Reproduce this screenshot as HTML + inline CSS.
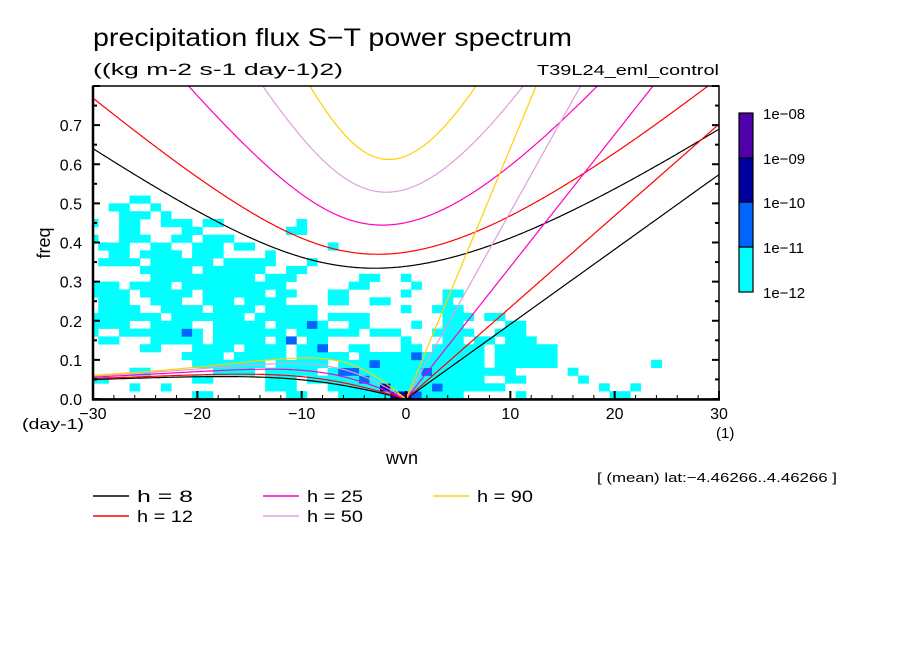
<!DOCTYPE html>
<html><head><meta charset="utf-8"><style>
body{margin:0;background:#fff;}
svg text{font-family:"Liberation Sans",sans-serif;fill:#000;}
</style></head><body>
<svg id="chart" width="904" height="654" xmlns="http://www.w3.org/2000/svg">
<rect width="904" height="654" fill="#fff"/>
<text x="93" y="46" font-size="25" textLength="479" lengthAdjust="spacingAndGlyphs">precipitation flux S−T power spectrum</text>
<text x="93" y="75" font-size="17" textLength="250" lengthAdjust="spacingAndGlyphs">((kg m-2 s-1 day-1)2)</text>
<text x="537" y="75" font-size="15" textLength="182" lengthAdjust="spacingAndGlyphs">T39L24_eml_control</text>
<defs><clipPath id="pc"><rect x="93" y="86" width="626" height="313"/></clipPath></defs>
<g id="cells" clip-path="url(#pc)"></g>
<g id="curves" clip-path="url(#pc)"></g>
<rect x="93" y="86" width="626" height="313" fill="none" stroke="#000" stroke-width="1.5"/>
<line x1="92" y1="399.5" x2="720" y2="399.5" stroke="#000" stroke-width="2.5"/>
<line x1="93" y1="86" x2="93" y2="400" stroke="#000" stroke-width="2.5"/>
<g id="ticks"></g>
<text transform="translate(50,243) rotate(-90)" font-size="18" text-anchor="middle">freq</text>
<text x="22" y="429" font-size="15" textLength="62" lengthAdjust="spacingAndGlyphs">(day-1)</text>
<text x="716" y="438" font-size="15">(1)</text>
<text x="402" y="464" font-size="18" text-anchor="middle">wvn</text>
<text x="597" y="482" font-size="13" textLength="240" lengthAdjust="spacingAndGlyphs">[ (mean) lat:−4.46266..4.46266 ]</text>
<g id="legend"></g>
<g id="cbar"></g>
</svg>
<script>
// ---- data ----
const depths = [8, 12, 25, 50, 90];
const depthColors = ["#000000", "#ff0000", "#ff00c0", "#dda0dd", "#ffd000"];
const xTicks = [-30, -20, -10, 0, 10, 20, 30];
const yTicks = [0.0, 0.1, 0.2, 0.3, 0.4, 0.5, 0.6, 0.7];
const cbarLabels = ["1e-12", "1e-11", "1e-10", "1e-09", "1e-08"];
const cbarColors = ["#00ffff", "#0064ff", "#0000a0", "#5000a8"];
const freqBin = 0.02;
// cyan (level 1) runs per frequency bin row: [kStart, kEnd]
const spectrumRuns = [
 [[-20,-19],[-11,-10],[-6,5],[11,11],[20,21]],
 [[-26,-26],[-23,-23],[-13,-11],[-7,9],[19,19],[22,22]],
 [[-30,-29],[-20,-19],[-13,-11],[-9,7],[10,11],[17,17]],
 [[-26,-25],[-18,-15],[-13,-9],[-7,10],[16,16]],
 [[-20,-14],[-12,-8],[-6,7],[9,14],[24,24]],
 [[-21,-18],[-16,-12],[-10,-6],[-4,7],[9,14]],
 [[-25,-24],[-20,-17],[-15,-12],[-10,-9],[-5,-4],[0,1],[3,7],[9,14]],
 [[-29,-28],[-24,-20],[-18,-14],[-12,-11],[-9,-8],[0,0],[4,5],[7,8],[10,12]],
 [[-30,-30],[-27,-20],[-18,-12],[-10,-5],[-3,-1],[3,6],[9,11]],
 [[-30,-27],[-24,-21],[-18,-14],[-12,-8],[-5,-4],[1,1],[4,5],[10,11]],
 [[-30,-24],[-22,-16],[-14,-9],[-7,-4],[4,6],[8,9]],
 [[-29,-26],[-23,-20],[-18,-15],[-13,-9],[0,0],[3,5]],
 [[-29,-27],[-24,-22],[-19,-17],[-15,-12],[-7,-6],[-3,-2],[4,4]],
 [[-30,-27],[-25,-21],[-19,-14],[-12,-11],[-7,-6],[0,0],[4,5]],
 [[-30,-28],[-26,-23],[-21,-17],[-16,-12],[-5,-4],[1,1]],
 [[-24,-22],[-21,-15],[-13,-11],[-4,-3],[0,0]],
 [[-25,-21],[-19,-14],[-11,-10]],
 [[-29,-26],[-24,-19],[-17,-13],[-9,-9]],
 [[-28,-27],[-25,-22],[-20,-18],[-13,-13]],
 [[-29,-27],[-24,-23],[-20,-18],[-16,-15],[-7,-7]],
 [[-30,-30],[-27,-25],[-22,-21],[-19,-17]],
 [[-27,-26],[-21,-20],[-11,-10]],
 [[-30,-30],[-27,-26],[-23,-21],[-19,-18],[-10,-10]],
 [[-27,-25],[-23,-23]],
 [[-28,-27],[-24,-24]],
 [[-26,-25]]
];
// stronger spots: wavenumber, bin index, level
const peakK = [-5,-6,-4,-2,-1,0,1,2,1,-8,-11,-21,-9,3,-3];
const peakBin = [3,3,2,1,0,0,0,3,5,6,7,8,9,1,4];
const peakLevel = [2,2,2,3,3,3,2,2,2,2,2,2,2,2,2];

// ---- axes ----
const X0=93, X1=719, Y0=399, Y1=86;
const xs = k => X0 + (k+30)/60*(X1-X0);
const ys = f => Y0 - f/0.8*(Y0-Y1);
const NS="http://www.w3.org/2000/svg";
function mk(tag, attrs, parent){const e=document.createElementNS(NS,tag);for(const a in attrs)e.setAttribute(a,attrs[a]);parent.appendChild(e);return e;}

// heatmap grid
const grid = {};
spectrumRuns.forEach((row,i)=>row.forEach(r=>{for(let k=r[0];k<=r[1];k++)grid[k+","+i]=1;}));
peakK.forEach((k,j)=>{grid[k+","+peakBin[j]]=peakLevel[j];});
const cellG=document.getElementById('cells');
for(const key in grid){
  const [k,i]=key.split(",").map(Number);
  const c=mk('rect',{x:xs(k-0.5),y:ys((i+1)*freqBin),width:xs(k+0.5)-xs(k-0.5)+0.3,height:ys(i*freqBin)-ys((i+1)*freqBin)+0.3,fill:cbarColors[grid[key]-1]},cellG);
  
  
}

// dispersion curves (equatorial shallow-water, n=1 and Kelvin)
const g=9.81, a=6.371e6, beta=2*7.292e-5/6.371e6, dayfac=86400/(2*Math.PI);
function roots(kh){const p=-(kh*kh+3), q=-kh;const m=2*Math.sqrt(-p/3);
  const th=Math.acos(Math.max(-1,Math.min(1,3*q/(2*p)*Math.sqrt(-3/p))))/3;
  return [0,1,2].map(j=>m*Math.cos(th-2*Math.PI*j/3)).sort((u,v)=>v-u);}
const curveG=document.getElementById('curves');
depths.forEach((h,di)=>{
  const c=Math.sqrt(g*h), sc=Math.sqrt(beta*c)*dayfac, kfac=Math.sqrt(c/beta)/a;
  let ig=[], ross=[], kel=[];
  for(let k=-30;k<=30.001;k+=0.1){
    const r=roots(k*kfac);
    ig.push([xs(k),ys(r[0]*sc)]);
    if(k<=0) ross.push([xs(k),ys(Math.max(0,r[1])*sc)]);
    if(k>=0) kel.push([xs(k),ys(c*k/a*dayfac)]);
  }
  [["ig",ig],["rossby",ross],["kelvin",kel]].forEach(([nm,pts])=>{
    const p=mk('polyline',{points:pts.map(q=>q[0].toFixed(1)+","+q[1].toFixed(1)).join(" "),fill:"none",stroke:depthColors[di],"stroke-width":1.2},curveG);
    
    
  });
});

// ticks
const tg=document.getElementById('ticks');
for(let k=-30;k<=30;k+=2){const L=(k%10===0)?8:4;mk('line',{x1:xs(k),y1:Y0,x2:xs(k),y2:Y0-L,stroke:"#000","stroke-width":k%10===0?2:1},tg);}
for(let f=0;f<=0.8001;f+=0.05){const maj=Math.round(f*100)%10===0;const L=maj?7:4;
  mk('line',{x1:X0,y1:ys(f),x2:X0+L,y2:ys(f),stroke:"#000","stroke-width":2},tg);
  mk('line',{x1:X1,y1:ys(f),x2:X1-L,y2:ys(f),stroke:"#000","stroke-width":2},tg);}
xTicks.forEach(k=>{const t=mk('text',{x:xs(k),y:419,"font-size":16,"text-anchor":"middle"},tg);t.textContent=(k<0?"−":"")+Math.abs(k);
  
  });
yTicks.forEach(f=>{const t=mk('text',{x:82,y:ys(f)+6,"font-size":16,"text-anchor":"end"},tg);t.textContent=f.toFixed(1);
  
  });

// legend
const lg=document.getElementById('legend');
const legPos=[[93,496],[93,516],[263,496],[263,516],[433,496]];
depths.forEach((h,i)=>{const [x,y]=legPos[i];
  const e=mk('g',{},lg);
  
  
  mk('line',{x1:x,y1:y,x2:x+36,y2:y,stroke:depthColors[i],"stroke-width":1.5},e);
  const t=mk('text',{x:x+44,y:y+6,"font-size":17,"xml:space":"preserve",textLength:56,lengthAdjust:"spacingAndGlyphs"},e);t.textContent="h = "+(h<10?"  ":"")+h;});

// colorbar
const cb=document.getElementById('cbar');
const cbY=[292,247,202,158,113];
cbarColors.forEach((col,i)=>{const r=mk('rect',{x:739,y:cbY[i+1],width:14,height:cbY[i]-cbY[i+1],fill:col,stroke:"#000","stroke-width":1.2},cb);
  
  });
cbarLabels.forEach((l,i)=>{const t=mk('text',{x:763,y:cbY[i]+6,"font-size":15},cb);t.textContent=l.replace("-","−");
  
  });
</script>
</body></html>
